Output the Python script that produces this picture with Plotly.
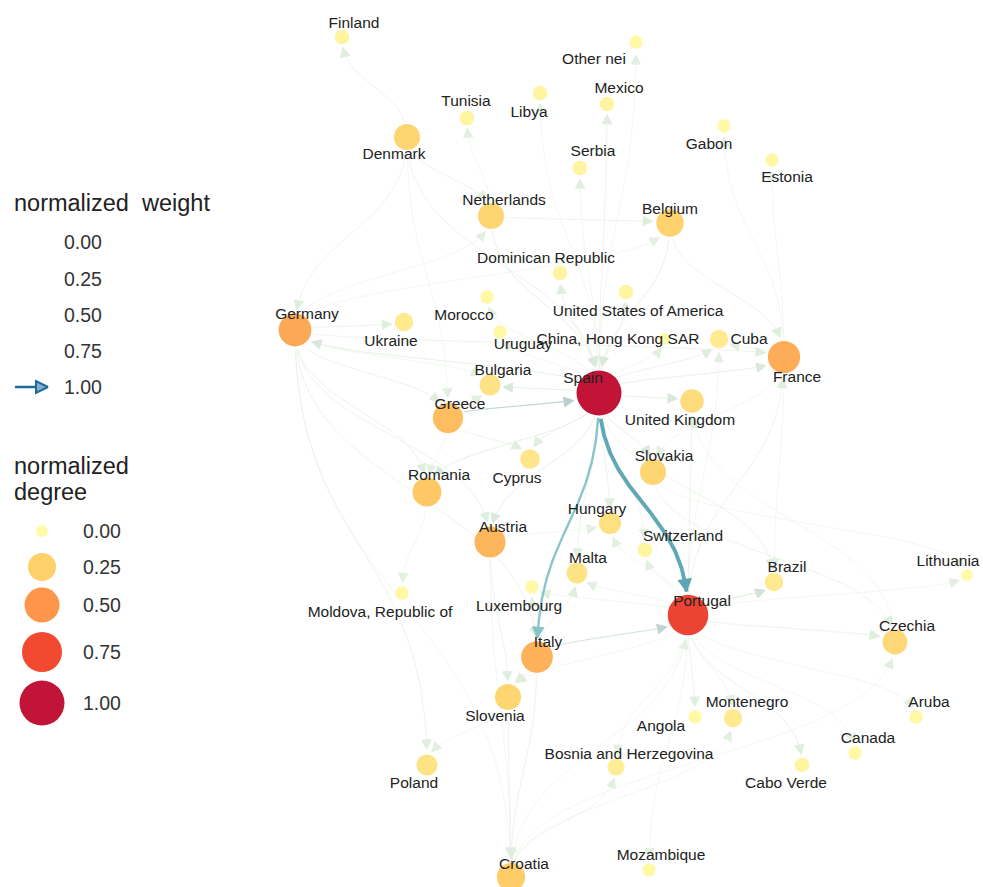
import numpy as np
import plotly.graph_objects as go
from plotly.colors import sample_colorscale

# ---- nodes (layout coordinates from the network layout) ----
countries = ["Finland", "Other nei", "Libya", "Mexico", "Tunisia", "Denmark", "Gabon", "Estonia",
             "Serbia", "Netherlands", "Belgium", "Dominican Republic", "Morocco",
             "United States of America", "Germany", "Ukraine", "Uruguay", "China, Hong Kong SAR",
             "Cuba", "France", "Bulgaria", "Spain", "United Kingdom", "Greece", "Cyprus", "Romania",
             "Slovakia", "Hungary", "Austria", "Switzerland", "Malta", "Luxembourg", "Brazil",
             "Lithuania", "Moldova, Republic of", "Portugal", "Italy", "Czechia", "Slovenia",
             "Montenegro", "Angola", "Aruba", "Canada", "Bosnia and Herzegovina", "Cabo Verde",
             "Poland", "Mozambique", "Croatia"]
node_x = [342, 636, 540, 607, 467, 407, 724, 772, 580, 491, 670, 560, 487, 626, 295, 404, 500, 664,
          719, 784, 490, 599, 692, 448, 530, 427, 653, 610, 490, 645, 577, 532, 774, 967, 402, 688,
          537, 895, 508, 733, 695, 916, 855, 616, 802, 427, 649, 511]
node_y = [37, 42, 93, 104, 118, 137, 126, 160, 168, 216, 223, 273, 297, 292, 330, 322, 332, 339,
          339, 357, 385, 393, 401, 418, 459, 492, 472, 523, 542, 550, 573, 587, 582, 575, 593, 615,
          657, 642, 697, 718, 717, 717, 753, 767, 765, 765, 870, 877]
degree = [0.04, 0.02, 0.04, 0.04, 0.04, 0.22, 0.02, 0.02, 0.04, 0.22, 0.24, 0.04, 0.02, 0.04, 0.42,
          0.10, 0.02, 0.0, 0.10, 0.40, 0.14, 1.0, 0.18, 0.33, 0.12, 0.28, 0.22, 0.16, 0.36, 0.04,
          0.14, 0.02, 0.10, 0.0, 0.02, 0.78, 0.38, 0.20, 0.22, 0.10, 0.02, 0.02, 0.02, 0.08, 0.04,
          0.14, 0.02, 0.26]
label_x = [354, 594, 529, 619, 466, 394, 709, 787, 593, 504, 670, 546, 464, 638, 307, 391, 523, 618,
           749, 797, 503, 583, 680, 460, 517, 439, 664, 597, 503, 683, 588, 519, 787, 948, 380, 702,
           548, 907, 495, 747, 661, 929, 868, 629, 786, 414, 661, 524]
label_y = [24, 60, 113, 89, 102, 155, 145, 178, 152, 201, 210, 259, 316, 312, 315, 342, 345, 340,
           340, 378, 371, 379, 421, 405, 479, 476, 457, 510, 528, 537, 559, 607, 568, 562, 613, 602,
           643, 627, 717, 703, 727, 703, 739, 755, 784, 784, 856, 865]

# ---- edges (from, to, normalized weight) ----
edge_from = ["Spain", "Spain", "Greece", "Italy", "Portugal",
             "Denmark", "Denmark", "Denmark", "Denmark", "Denmark", "Netherlands", "Spain", "Spain",
             "Spain", "Spain", "France", "France", "Netherlands", "Netherlands", "Belgium", "Belgium",
             "Spain", "Spain", "Spain", "Spain", "Spain", "Spain", "Spain", "Spain", "Spain", "Spain",
             "Spain", "Spain", "Spain", "Spain", "Spain", "Spain", "Spain", "Spain",
             "Germany", "Germany", "Germany", "Germany", "Germany", "Germany", "Germany", "Germany",
             "Germany", "Germany", "Germany", "Romania", "Greece", "Greece", "Greece",
             "Austria", "Austria", "Austria", "Italy", "Italy", "Italy", "Italy", "Slovenia",
             "Slovenia", "Croatia", "Croatia", "Croatia", "Croatia",
             "Portugal", "Portugal", "Portugal", "Portugal", "Portugal", "Portugal", "Portugal",
             "Portugal", "Portugal", "Portugal", "Portugal", "Portugal", "Portugal", "Portugal",
             "Portugal", "Portugal", "Portugal", "Portugal",
             "Slovakia", "Slovakia", "Czechia", "France", "France", "France", "Hungary"]
edge_to = ["Portugal", "Italy", "Spain", "Portugal", "Brazil",
           "Finland", "Germany", "Netherlands", "Spain", "Greece", "Tunisia", "Libya", "Mexico",
           "Other nei", "Serbia", "Gabon", "Estonia", "Belgium", "Spain", "Spain", "France",
           "Dominican Republic", "United States of America", "Morocco", "Uruguay",
           "China, Hong Kong SAR", "Cuba", "France", "United Kingdom", "Bulgaria", "Cyprus",
           "Romania", "Slovakia", "Hungary", "Austria", "Malta", "Switzerland", "Brazil", "Germany",
           "Ukraine", "Greece", "Romania", "Poland", "Austria", "Croatia", "France", "Italy",
           "Netherlands", "Belgium", "Bulgaria", "Moldova, Republic of", "Bulgaria", "Cyprus",
           "Romania", "Slovenia", "Hungary", "Croatia", "Slovenia", "Croatia", "Malta", "Luxembourg",
           "Poland", "Croatia", "Bosnia and Herzegovina", "Montenegro", "Portugal", "Czechia",
           "Czechia", "Aruba", "Canada", "Cabo Verde", "Montenegro", "Angola",
           "Bosnia and Herzegovina", "Mozambique", "Slovenia", "Switzerland", "Malta", "Luxembourg",
           "Hungary", "France", "United Kingdom", "Lithuania", "Cuba",
           "Brazil", "Czechia", "Lithuania", "United Kingdom", "Cuba", "Brazil", "Slovakia"]
edge_weight = [0.55, 0.30, 0.09, 0.07, 0.05,
               0.03, 0.03, 0.03, 0.03, 0.02, 0.02, 0.02, 0.03, 0.02, 0.02, 0.02, 0.02, 0.03, 0.04,
               0.04, 0.03, 0.03, 0.03, 0.02, 0.02, 0.02, 0.03, 0.04, 0.04, 0.04, 0.03, 0.04, 0.04,
               0.03, 0.04, 0.03, 0.03, 0.03, 0.04,
               0.03, 0.03, 0.03, 0.03, 0.03, 0.02, 0.03, 0.03, 0.02, 0.02, 0.02, 0.02, 0.02, 0.03,
               0.02, 0.03, 0.02, 0.02, 0.03, 0.03, 0.03, 0.02, 0.02, 0.03, 0.02, 0.02, 0.02, 0.02,
               0.03, 0.02, 0.02, 0.03, 0.02, 0.03, 0.02, 0.02, 0.02, 0.02, 0.02, 0.02, 0.02, 0.03,
               0.03, 0.02, 0.02,
               0.02, 0.03, 0.02, 0.02, 0.02, 0.02, 0.02]

legend_vals = [0.0, 0.25, 0.5, 0.75, 1.0]
legend_text = ["0.00", "0.25", "0.50", "0.75", "1.00"]

# scales
DEG_SCALE = [[0, "#FFFBA3"], [0.25, "#FECC5C"], [0.5, "#FD8D3C"], [0.75, "#F03B20"], [1, "#BD0026"]]
DIAM = [12, 28, 35, 40, 45]
EDGE_SCALE = [[0, "#F3F9F1"], [0.05, "#DFEEDD"], [0.1, "#BCCFD0"], [0.25, "#92CBCD"],
              [0.5, "#68AFBA"], [1, "#1F6A9A"]]
FONT = "Liberation Sans, Arial, sans-serif"

idx = {c: i for i, c in enumerate(countries)}
diam = np.interp(degree, legend_vals, DIAM)
deg_col = sample_colorscale(DEG_SCALE, list(degree))


def diagonal(x0, y0, x1, y1, n=120):
    t = np.linspace(0, 1, n)[:, None]
    ym = (y0 + y1) / 2
    p = np.array([[x0, y0], [x0, ym], [x1, ym], [x1, y1]], dtype=float)
    return (1 - t) ** 3 * p[0] + 3 * (1 - t) ** 2 * t * p[1] + 3 * (1 - t) * t ** 2 * p[2] + t ** 3 * p[3]


def arrow_head(tip, d, length, half):
    base = tip - d * length
    n = np.array([-d[1], d[0]])
    a, b = base + n * half, base - n * half
    return [tip[0], a[0], b[0], tip[0]], [tip[1], a[1], b[1], tip[1]]


fig = go.Figure()

order = np.argsort(edge_weight)
for k in order:
    s, e, w = idx[edge_from[k]], idx[edge_to[k]], edge_weight[k]
    pts = diagonal(node_x[s], node_y[s], node_x[e], node_y[e])
    ds = np.hypot(pts[:, 0] - node_x[s], pts[:, 1] - node_y[s])
    de = np.hypot(pts[:, 0] - node_x[e], pts[:, 1] - node_y[e])
    keep = (ds >= diam[s] / 2 + 1) & (de >= diam[e] / 2 + 3)
    seg = pts[keep]
    if len(seg) < 4:
        continue
    col = sample_colorscale(EDGE_SCALE, [w])[0]
    width = 0.6 + 6 * w
    fig.add_trace(go.Scatter(x=seg[:, 0], y=seg[:, 1], mode="lines",
                             line=dict(color=col, width=width), hoverinfo="skip"))
    tip = seg[-1]
    d = tip - seg[-4]
    d = d / np.hypot(*d)
    acol = sample_colorscale(EDGE_SCALE, [min(1.0, w + 0.02)])[0]
    ax, ay = arrow_head(tip, d, 9 + 6 * w, 4.5 + 4 * w)
    fig.add_trace(go.Scatter(x=ax, y=ay, mode="lines", fill="toself", fillcolor=acol,
                             line=dict(color=acol, width=1), hoverinfo="skip"))

# nodes
fig.add_trace(go.Scatter(x=node_x, y=node_y, mode="markers",
                         marker=dict(size=diam, color=deg_col, opacity=0.92, line=dict(width=0)),
                         hoverinfo="text", text=countries))
# labels
fig.add_trace(go.Scatter(x=label_x, y=label_y, mode="text", text=countries,
                         textfont=dict(family=FONT, size=15.5, color="#222222"), hoverinfo="skip"))

# ---- legends ----
leg_font = dict(family=FONT, size=19.5, color="#333333")
title_font = dict(family=FONT, size=23.5, color="#222222")
fig.add_annotation(x=12, y=203, text="normalized  weight", showarrow=False, xanchor="left",
                   font=title_font)
w_y = [242, 279, 315, 351, 387]
for v, t, yy in zip(legend_vals, legend_text, w_y):
    fig.add_annotation(x=62, y=yy, text=t, showarrow=False, xanchor="left", font=leg_font)
# only the top weight shows a visible arrow in the key
col1 = sample_colorscale(EDGE_SCALE, [legend_vals[-1]])[0]
fig.add_trace(go.Scatter(x=[15, 38], y=[w_y[-1], w_y[-1]], mode="lines",
                         line=dict(color=col1, width=2.5), hoverinfo="skip"))
ax, ay = arrow_head(np.array([48.0, w_y[-1]]), np.array([1.0, 0.0]), 12, 6)
fig.add_trace(go.Scatter(x=ax, y=ay, mode="lines", fill="toself", fillcolor="#7FB0CC",
                         line=dict(color=col1, width=2), hoverinfo="skip"))

fig.add_annotation(x=12, y=466, text="normalized", showarrow=False, xanchor="left", font=title_font)
fig.add_annotation(x=12, y=492, text="degree", showarrow=False, xanchor="left", font=title_font)
d_y = [531, 567, 605, 652, 703]
fig.add_trace(go.Scatter(x=[42] * 5, y=d_y, mode="markers",
                         marker=dict(size=np.interp(legend_vals, legend_vals, DIAM),
                                     color=sample_colorscale(DEG_SCALE, legend_vals),
                                     opacity=0.92, line=dict(width=0)),
                         hoverinfo="skip"))
for t, yy in zip(legend_text, d_y):
    fig.add_annotation(x=81, y=yy, text=t, showarrow=False, xanchor="left", font=leg_font)

fig.update_layout(width=983, height=887, margin=dict(l=0, r=0, t=0, b=0),
                  plot_bgcolor="white", paper_bgcolor="white", showlegend=False,
                  xaxis=dict(range=[0, 983], visible=False, fixedrange=True),
                  yaxis=dict(range=[887, 0], visible=False, fixedrange=True))
fig.write_html("out.html", config={"displayModeBar": False},
               post_script="document.body.style.margin='0px';")
